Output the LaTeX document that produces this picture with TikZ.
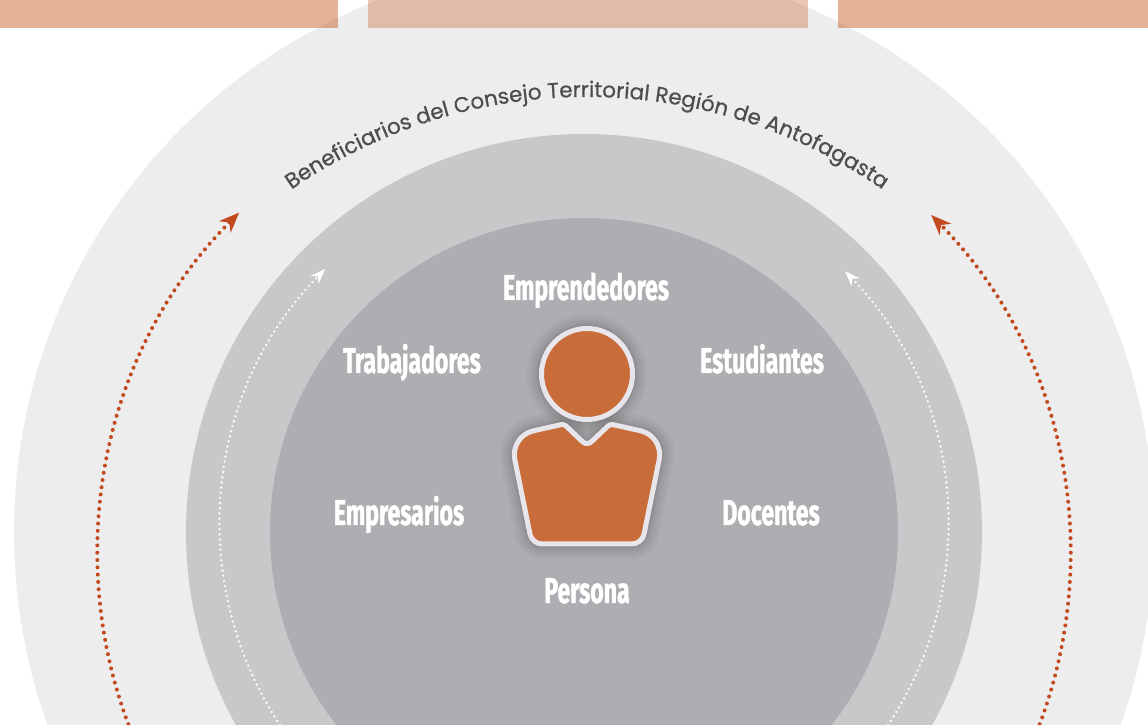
\documentclass[tikz,border=0pt]{standalone}
\usepackage{fontspec}
\setmainfont{Poppins}
\newfontfamily\condfont[FakeStretch=0.64,FakeBold=1.2]{Fira Sans}
\newfontfamily\arcfont[FakeBold=0.6]{Poppins}
\newcommand\arcstyle{\arcfont\fontsize{21.5pt}{21.5pt}\selectfont}
\usetikzlibrary{arrows.meta,decorations.text}
\definecolor{outerc}{HTML}{EDEDED}
\definecolor{midc}{HTML}{C8C7CA}
\definecolor{innerc}{HTML}{AEADB1}
\definecolor{barc}{HTML}{C8652F}
\definecolor{dotorange}{HTML}{C34A1F}
\definecolor{iconfill}{HTML}{C86C3A}
\definecolor{iconline}{HTML}{E8E6EA}
\definecolor{textgray}{HTML}{4D4D4F}
\tikzset{
  lbl/.style={text=white, font=\condfont\bfseries\fontsize{36pt}{36pt}\selectfont, anchor=base, inner sep=0pt},
  orangedots/.style={draw=dotorange, line width=4pt, line cap=round, dash pattern=on 0pt off 7.3pt,
     -{Stealth[length=20pt,width=16pt,inset=6pt,fill=dotorange]}},
  whitedots/.style={draw=white, line width=2.6pt, line cap=round, dash pattern=on 0pt off 5.2pt,
     -{Stealth[length=15pt,width=11pt,inset=4.5pt,fill=white]}},
  iconstroke/.style={draw=iconline, line width=5pt, fill=iconfill}
}
\def\bodypath{(587,181) [rounded corners=10pt] -- (532,181) [rounded corners=24pt] -- (510,289) [rounded corners=3pt] -- (564,301) [rounded corners=6pt] -- (587,279) [rounded corners=3pt] -- (610,301) [rounded corners=24pt] -- (664,289) [rounded corners=10pt] -- (642,181) [sharp corners] -- cycle}
\begin{document}
\begin{tikzpicture}[x=1pt,y=1pt]
\useasboundingbox (0,0) rectangle (1148,725);
\begin{scope}
\clip (0,0) rectangle (1148,725);
\coordinate (C) at (584,193);
\fill[outerc] (C) circle[radius=570];
\fill[midc] (C) circle[radius=398];
\fill[innerc] (C) circle[radius=314];
% top bars
\fill[barc, fill opacity=0.5] (0,697) rectangle (338,725);
\fill[barc, fill opacity=0.36] (368,697) rectangle (808,725);
\fill[barc, fill opacity=0.5] (838,697) rectangle (1148,725);
% orange dotted arcs
\coordinate (OC) at (584,170);
\coordinate (OLs) at ([shift={(215:486)}]OC);
\coordinate (ORs) at ([shift={(-35:486)}]OC);
\draw[orangedots] (OLs) arc[start angle=215, end angle=135.2, radius=486];
\draw[orangedots] (ORs) arc[start angle=-35, end angle=44.4, radius=486];
% white dotted arcs
\coordinate (WC) at (584,200);
\coordinate (WLs) at ([shift={(215:364)}]WC);
\coordinate (WRs) at ([shift={(-35:364)}]WC);
\draw[whitedots] (WLs) arc[start angle=215, end angle=135.3, radius=364];
\draw[whitedots] (WRs) arc[start angle=-35, end angle=44.2, radius=364];
% arc text
\coordinate (TC) at (587,110);
\coordinate (Ts) at ([shift={(140:518)}]TC);
\path[decorate, decoration={text along path, text color=textgray, text align=center,
  text={|\arcstyle|Beneficiarios del Consejo Territorial Región de Antofagasta}}]
  (Ts) arc[start angle=140, end angle=40, radius=518];
% icon shadow
\coordinate (H) at (587,351);
\foreach \w/\o in {30/0.025, 24/0.03, 18/0.035, 12/0.04, 8/0.05} {
  \draw[line width=\w pt, black, opacity=\o] (H) circle[radius=45.5];
  \draw[line width=\w pt, black, opacity=\o, line join=round] \bodypath;
}
% icon
\draw[iconstroke, line join=round] \bodypath;
\draw[iconstroke] (H) circle[radius=45.5];
% labels
\node[lbl] (emp) at (586,425) {Emprendedores};
\node[lbl] (tra) at (412,352) {Trabajadores};
\node[lbl] (est) at (762,352) {Estudiantes};
\node[lbl] (ems) at (399,200) {Empresarios};
\node[lbl] (doc) at (771,200) {Docentes};
\node[lbl] (per) at (587,122) {Persona};
\end{scope}
\end{tikzpicture}
\end{document}
